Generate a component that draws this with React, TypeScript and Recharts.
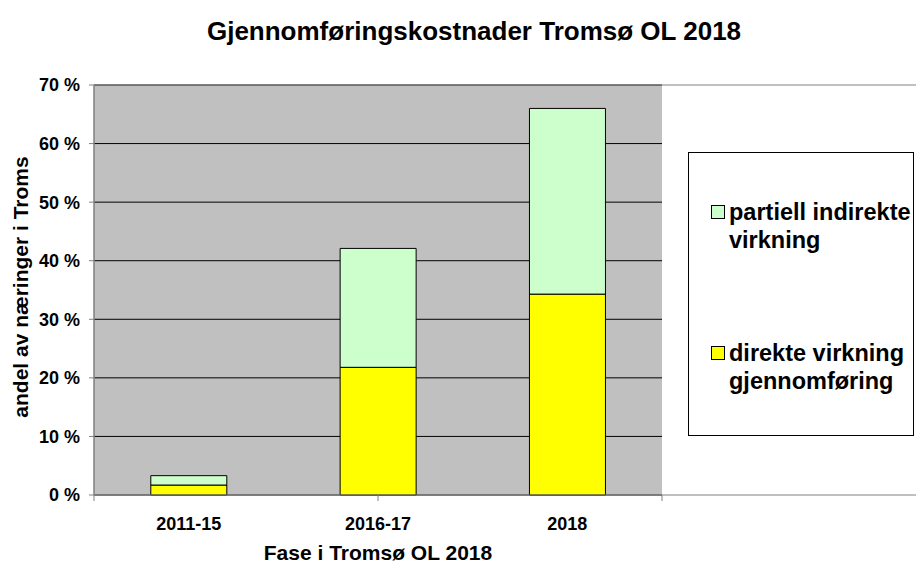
import {
  ComposedChart,
  XAxis,
  YAxis,
  CartesianGrid,
  Bar,
  ReferenceArea,
} from "recharts";

const phases = ["2011-15", "2016-17", "2018"];
const direkte = [1.7, 21.8, 34.3];
const partiell = [1.6, 20.3, 31.7];
const yTicks = [0, 10, 20, 30, 40, 50, 60, 70];
const edgeTicks = [0, 1, 2, 3];

const seriesInfo = [
  { key: "partiell", name: "partiell indirekte\nvirkning", color: "#CCFFCC" },
  { key: "direkte", name: "direkte virkning\ngjennomføring", color: "#FFFF00" },
];

const FONT = "'Liberation Sans', Arial, sans-serif";

const rows = phases.map((p, i) => ({
  phase: p,
  direkte: direkte[i],
  partiell: partiell[i],
}));

export default function App() {
  const tickStyle = { fontSize: 18, fontWeight: "bold", fill: "#000", fontFamily: FONT };

  const YTitle = (props: any) => {
    const vb = props.viewBox ?? {};
    const cx = (vb.x ?? 0) + 20;
    const cy = (vb.y ?? 0) + (vb.height ?? 0) / 2 - 3;
    return (
      <text
        x={cx}
        y={cy}
        transform={`rotate(-90 ${cx} ${cy})`}
        textAnchor="middle"
        dominantBaseline="central"
        fontSize={21}
        fontWeight="bold"
        fontFamily={FONT}
        fill="#000"
      >
        andel av næringer i Troms
      </text>
    );
  };

  const XTitle = (props: any) => {
    const vb = props.viewBox ?? {};
    const cx = (vb.x ?? 0) + (vb.width ?? 0) / 2;
    const by = (vb.y ?? 0) + (vb.height ?? 0) - 4;
    return (
      <text
        x={cx}
        y={by}
        textAnchor="middle"
        fontSize={21}
        fontWeight="bold"
        fontFamily={FONT}
        fill="#000"
      >
        Fase i Tromsø OL 2018
      </text>
    );
  };

  return (
    <div
      style={{
        position: "absolute",
        left: 0,
        top: 0,
        width: 916,
        height: 564,
        background: "#fff",
        fontFamily: FONT,
        overflow: "hidden",
      }}
    >
      <div
        style={{
          position: "absolute",
          top: 16,
          left: 0,
          width: 916,
          paddingLeft: 32,
          boxSizing: "border-box",
          textAlign: "center",
          fontSize: 26,
          fontWeight: "bold",
          lineHeight: "30px",
          whiteSpace: "nowrap",
        }}
      >
        Gjennomføringskostnader Tromsø OL 2018
      </div>
      <ComposedChart
        width={916}
        height={564}
        data={rows}
        margin={{ top: 85, right: 254, bottom: 0, left: 0 }}
        barCategoryGap="30%"
      >
        <CartesianGrid
          vertical={false}
          stroke="#000"
          fill="#C0C0C0"
          fillOpacity={1}
          yAxisId="y"
          xAxisId="e1"
        />
        <XAxis
          xAxisId="e1"
          type="number"
          domain={[0, 3]}
          ticks={edgeTicks}
          allowDataOverflow
          tickFormatter={() => ""}
          tickSize={6}
          height={8}
          stroke="#808080"
          tickLine={{ stroke: "#808080" }}
        />
        <XAxis
          xAxisId="x2"
          dataKey="phase"
          type="category"
          axisLine={false}
          tickLine={false}
          tickSize={0}
          tickMargin={14}
          height={61}
          tick={tickStyle}
          label={<XTitle />}
        />
        <YAxis
          yAxisId="y"
          width={94}
          domain={[0, 70]}
          ticks={yTicks}
          interval={0}
          tickFormatter={(v) => `${v} %`}
          tickSize={5}
          tickMargin={9}
          tick={tickStyle}
          stroke="#808080"
          label={<YTitle />}
        />
        <ReferenceArea
          xAxisId="e1"
          yAxisId="y"
          x1={0}
          x2={3}
          y1={0}
          y2={70}
          fill="none"
          stroke="#808080"
          strokeWidth={1}
          ifOverflow="visible"
        />
        <Bar
          xAxisId="x2"
          yAxisId="y"
          dataKey="direkte"
          stackId="a"
          fill="#FFFF00"
          stroke="#000"
          strokeWidth={1}
          isAnimationActive={false}
        />
        <Bar
          xAxisId="x2"
          yAxisId="y"
          dataKey="partiell"
          stackId="a"
          fill="#CCFFCC"
          stroke="#000"
          strokeWidth={1}
          isAnimationActive={false}
        />
      </ComposedChart>
      <div
        style={{
          position: "absolute",
          left: 688,
          top: 152,
          width: 226,
          height: 284,
          border: "1px solid #000",
          boxSizing: "border-box",
        }}
      >
        {seriesInfo.map((s, i) => (
          <div
            key={s.key}
            style={{
              position: "absolute",
              left: 22,
              top: 45,
              transform: `translateY(${i * 141}px)`,
              display: "flex",
              alignItems: "flex-start",
              fontSize: 23.5,
              fontWeight: "bold",
              lineHeight: "28px",
              whiteSpace: "pre",
            }}
          >
            <span
              style={{
                display: "inline-block",
                width: 14,
                height: 14,
                background: s.color,
                border: "1px solid #000",
                boxSizing: "border-box",
                marginTop: 7,
                marginRight: 4,
                flexShrink: 0,
              }}
            />
            <span>{s.name}</span>
          </div>
        ))}
      </div>
    </div>
  );
}
